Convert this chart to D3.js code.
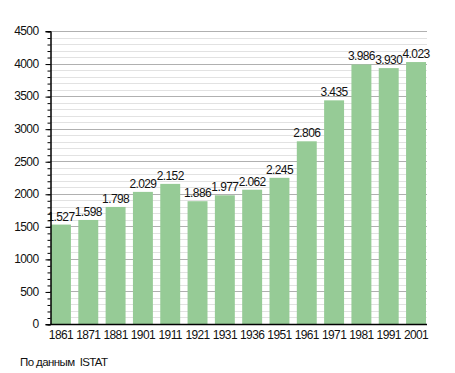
<!DOCTYPE html>
<html>
<head>
<meta charset="utf-8">
<script src="https://cdn.jsdelivr.net/npm/d3@7"></script>
<style>
  body { margin: 0; background: #fff; }
  text { font-family: "Liberation Sans", Arial, sans-serif; letter-spacing: -0.6px; }
</style>
</head>
<body>
<script>
const years = ["1861", "1871", "1881", "1901", "1911", "1921", "1931", "1936", "1951", "1961", "1971", "1981", "1991", "2001"];
const population = [1527, 1598, 1798, 2029, 2152, 1886, 1977, 2062, 2245, 2806, 3435, 3986, 3930, 4023];
const yTicks = [0, 500, 1000, 1500, 2000, 2500, 3000, 3500, 4000, 4500];
const sourceNote = "По данным  ISTAT";

function main() {
  const width = 455;
  const height = 373;
  const margin = { top: 31, right: 28, bottom: 49, left: 50 };

  const data = years.map((y, i) => ({ year: y, value: population[i] }));

  const x = d3.scaleBand()
    .domain(years)
    .range([margin.left + 1, width - margin.right - 1])
    .paddingInner(0.27)
    .paddingOuter(0);

  const y = d3.scaleLinear()
    .domain([0, 4500])
    .range([height - margin.bottom, margin.top]);

  const svg = d3.create("svg")
    .attr("width", width)
    .attr("height", height);

  const plotRight = width - margin.right;

  // minor grid every 100
  svg.append("g")
    .selectAll("line")
    .data(d3.range(100, 4501, 100).filter(v => v % 500 !== 0))
    .join("line")
    .attr("x1", margin.left)
    .attr("x2", plotRight)
    .attr("y1", d => Math.round(y(d)) + 0.5)
    .attr("y2", d => Math.round(y(d)) + 0.5)
    .attr("stroke", "#e2e2e2")
    .attr("stroke-width", 1);

  // major grid every 500
  svg.append("g")
    .selectAll("line")
    .data(yTicks.filter(v => v > 0))
    .join("line")
    .attr("x1", margin.left)
    .attr("x2", plotRight)
    .attr("y1", d => Math.round(y(d)) + 0.5)
    .attr("y2", d => Math.round(y(d)) + 0.5)
    .attr("stroke", "#b0b0b0")
    .attr("stroke-width", 1);

  // bars
  svg.append("g")
    .attr("fill", "#96cb96")
    .selectAll("rect")
    .data(data)
    .join("rect")
    .attr("x", d => x(d.year))
    .attr("y", d => y(d.value))
    .attr("width", x.bandwidth())
    .attr("height", d => y(0) - y(d.value));

  // value labels
  svg.append("g")
    .attr("font-size", 12)
    .attr("fill", "#111")
    .attr("text-anchor", "middle")
    .selectAll("text")
    .data(data)
    .join("text")
    .attr("x", d => x(d.year) + x.bandwidth() / 2)
    .attr("y", d => y(d.value) - 4)
    .text(d => d3.format(",")(d.value).replace(",", "."));

  // y axis with minor ticks
  const gy = svg.append("g")
    .attr("transform", `translate(${margin.left + 0.5},0)`);
  gy.call(d3.axisLeft(y).tickValues(d3.range(0, 4501, 100)).tickSize(3).tickFormat(""));
  gy.call(g => g.append("g").call(d3.axisLeft(y).tickValues(yTicks).tickSize(5).tickPadding(7).tickFormat(d3.format("d"))));
  gy.selectAll("path.domain").attr("stroke", "#000");
  gy.selectAll("line").attr("stroke", "#000");
  gy.selectAll("text").attr("font-size", 12).attr("fill", "#111")
    .attr("font-family", "Liberation Sans, Arial, sans-serif");
  gy.selectAll(".tick line").attr("transform", "translate(0,0.5)");

  // x axis
  const gx = svg.append("g")
    .attr("transform", `translate(0,${y(0) + 0.5})`)
    .call(d3.axisBottom(x).tickSize(0).tickPadding(6));
  gx.select("path.domain")
    .attr("d", `M${margin.left},0H${plotRight}`)
    .attr("stroke", "#000")
    .attr("stroke-width", 1.5);
  gx.selectAll("text").attr("font-size", 12).attr("fill", "#111")
    .attr("font-family", "Liberation Sans, Arial, sans-serif");

  svg.append("text")
    .attr("x", 20)
    .attr("y", 366)
    .attr("font-size", 11.5)
    .attr("fill", "#111")
    .style("white-space", "pre")
    .text(sourceNote);

  document.body.appendChild(svg.node());
}

main();
</script>
</body>
</html>
